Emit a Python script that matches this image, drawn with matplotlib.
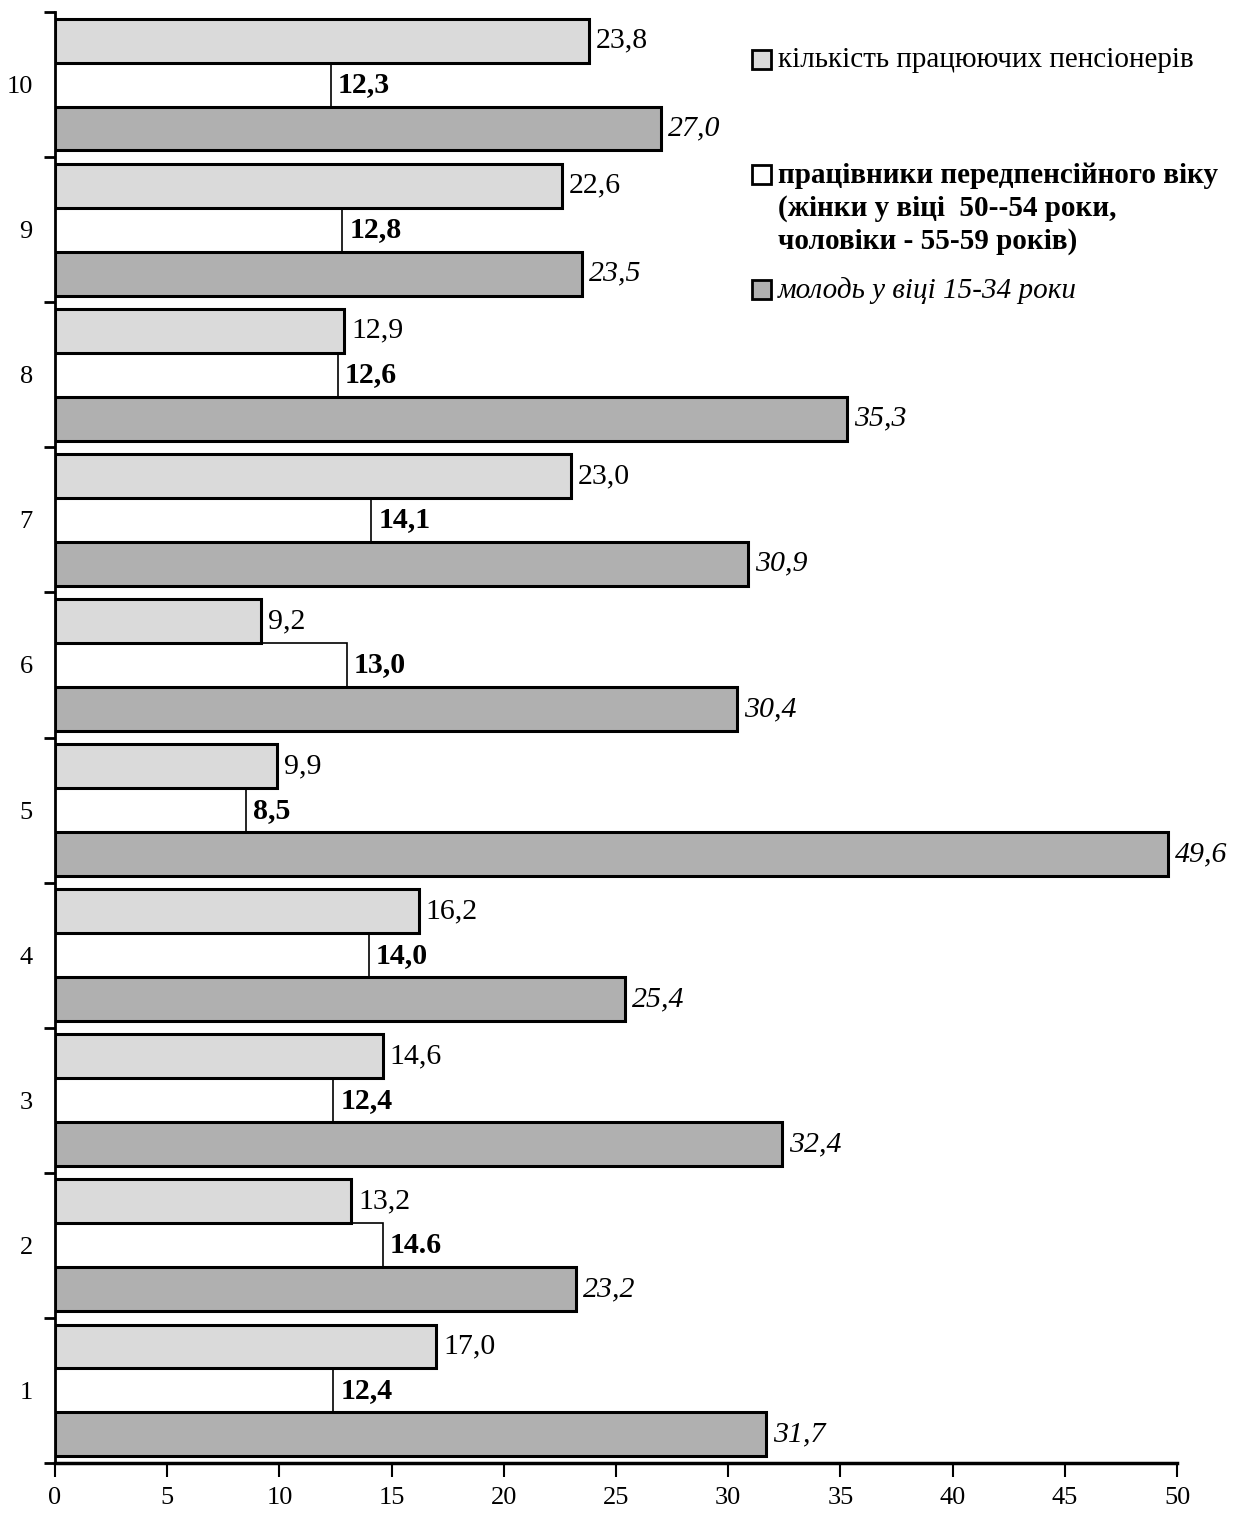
import matplotlib
matplotlib.use("Agg")
import matplotlib.pyplot as plt
from matplotlib.patches import Rectangle
import numpy as np

plt.rcParams['font.family'] = ['Liberation Serif', 'DejaVu Serif']

categories = [1, 2, 3, 4, 5, 6, 7, 8, 9, 10]
pensioners = [17.0, 13.2, 14.6, 16.2, 9.9, 9.2, 23.0, 12.9, 22.6, 23.8]
pre_pension = [12.4, 14.6, 12.4, 14.0, 8.5, 13.0, 14.1, 12.6, 12.8, 12.3]
youth = [31.7, 23.2, 32.4, 25.4, 49.6, 30.4, 30.9, 35.3, 23.5, 27.0]
pensioners_lbl = ["17,0", "13,2", "14,6", "16,2", "9,9", "9,2", "23,0", "12,9", "22,6", "23,8"]
pre_pension_lbl = ["12,4", "14.6", "12,4", "14,0", "8,5", "13,0", "14,1", "12,6", "12,8", "12,3"]
youth_lbl = ["31,7", "23,2", "32,4", "25,4", "49,6", "30,4", "30,9", "35,3", "23,5", "27,0"]
legend_labels = ["кількість працюючих пенсіонерів",
                 "працівники передпенсійного віку\n(жінки у віці  50--54 роки,\nчоловіки - 55-59 років)",
                 "молодь у віці 15-34 роки"]
xticks = [0, 5, 10, 15, 20, 25, 30, 35, 40, 45, 50]

c_pens = "#dadada"
c_pre = "#ffffff"
c_youth = "#b0b0b0"

fig = plt.figure(figsize=(12.42, 15.15), dpi=100)
ax = fig.add_axes([55/1242, 52/1515, (1177-55)/1242, (1463-12)/1515])

y = np.array(categories, dtype=float)
h = 0.303
b1 = ax.barh(y + h, pensioners, height=h, color=c_pens, edgecolor="black", linewidth=2.2, zorder=2)
b2 = ax.barh(y, pre_pension, height=h, color=c_pre, edgecolor="black", linewidth=1.2, zorder=1)
b3 = ax.barh(y - h, youth, height=h, color=c_youth, edgecolor="black", linewidth=2.2, zorder=2)

fs = 21.5
for bars, labels, kw in [(b1, pensioners_lbl, dict()),
                         (b2, pre_pension_lbl, dict(fontweight="bold")),
                         (b3, youth_lbl, dict(fontstyle="italic"))]:
    for rect, lab in zip(bars, labels):
        ax.annotate(lab, (rect.get_width(), rect.get_y() + rect.get_height()/2),
                    xytext=(5, 0), textcoords="offset points", va="center", ha="left",
                    fontsize=fs, **kw)

ax.set_xlim(0, 50)
ax.set_ylim(0.5, 10.5)
ax.set_xticks(xticks)
ax.set_xticklabels([str(t) for t in xticks], fontsize=19)
ax.set_yticks(np.arange(0.5, 11.0, 1.0))
ax.set_yticklabels([])
ax.set_yticks(y, minor=True)
ax.set_yticklabels([str(c) for c in categories], minor=True, fontsize=19)
ax.tick_params(axis="y", which="minor", length=0, pad=16)
ax.tick_params(axis="y", which="major", length=8, width=2, direction="out")
ax.tick_params(axis="x", which="major", length=10, width=1.5, direction="out", pad=7)
for s in ["top", "right"]:
    ax.spines[s].set_visible(False)
ax.spines["left"].set_linewidth(2)
ax.spines["bottom"].set_linewidth(2.5)

# legend drawn manually
W, H = 1242, 1515
def px(x, yy):
    return x / W, 1 - yy / H
entries = [(c_pens, legend_labels[0], dict(), 60),
           (c_pre, legend_labels[1], dict(fontweight="bold"), 175),
           (c_youth, legend_labels[2], dict(fontstyle="italic"), 290)]
for col, lab, kw, yc in entries:
    x0, y0 = px(752, yc + 9)
    fig.patches.append(Rectangle((x0, y0), 19/W, 19/H, transform=fig.transFigure,
                                 facecolor=col, edgecolor="black", linewidth=2.0))
    tx, ty = px(778, yc - 13)
    fig.text(tx, ty, lab, fontsize=21, va="top", ha="left", linespacing=1.26, **kw)

fig.savefig("out.png", dpi=100)
